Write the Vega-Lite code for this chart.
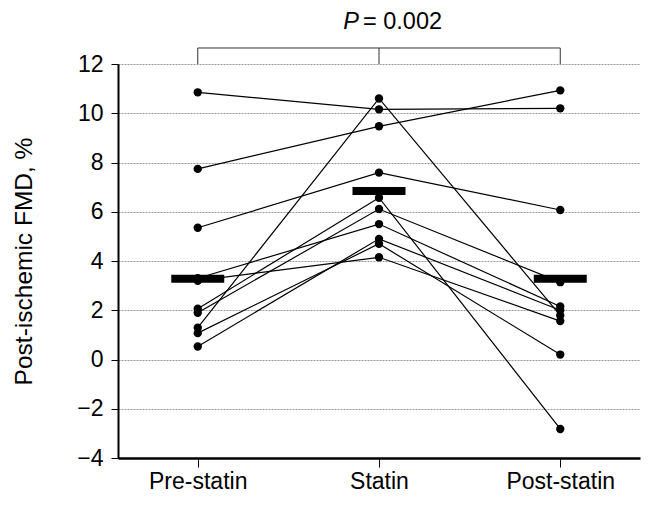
{
  "$schema": "https://vega.github.io/schema/vega-lite/v6.json",
  "autosize": "none",
  "width": 522,
  "height": 394,
  "padding": {"left": 118, "top": 64, "right": 9, "bottom": 47},
  "config": {
    "view": {"stroke": null},
    "font": "Liberation Sans",
    "axis": {"labelFont": "Liberation Sans", "titleFont": "Liberation Sans", "labelColor": "#000", "titleColor": "#000"}
  },
  "datasets": {
    "fmd": [
      {"subject": 1, "phase": "Pre-statin", "fmd": 10.85},
      {"subject": 1, "phase": "Statin", "fmd": 10.16},
      {"subject": 1, "phase": "Post-statin", "fmd": 10.2},
      {"subject": 2, "phase": "Pre-statin", "fmd": 7.74},
      {"subject": 2, "phase": "Statin", "fmd": 9.47},
      {"subject": 2, "phase": "Post-statin", "fmd": 10.93},
      {"subject": 3, "phase": "Pre-statin", "fmd": 5.35},
      {"subject": 3, "phase": "Statin", "fmd": 7.59},
      {"subject": 3, "phase": "Post-statin", "fmd": 6.07},
      {"subject": 4, "phase": "Pre-statin", "fmd": 1.29},
      {"subject": 4, "phase": "Statin", "fmd": 10.6},
      {"subject": 4, "phase": "Post-statin", "fmd": 1.79},
      {"subject": 5, "phase": "Pre-statin", "fmd": 2.06},
      {"subject": 5, "phase": "Statin", "fmd": 6.57},
      {"subject": 5, "phase": "Post-statin", "fmd": -2.82},
      {"subject": 6, "phase": "Pre-statin", "fmd": 1.9},
      {"subject": 6, "phase": "Statin", "fmd": 6.11},
      {"subject": 6, "phase": "Post-statin", "fmd": 3.14},
      {"subject": 7, "phase": "Pre-statin", "fmd": 3.3},
      {"subject": 7, "phase": "Statin", "fmd": 5.5},
      {"subject": 7, "phase": "Post-statin", "fmd": 2.15},
      {"subject": 8, "phase": "Pre-statin", "fmd": 0.53},
      {"subject": 8, "phase": "Statin", "fmd": 4.9},
      {"subject": 8, "phase": "Post-statin", "fmd": 2.0},
      {"subject": 9, "phase": "Pre-statin", "fmd": 1.07},
      {"subject": 9, "phase": "Statin", "fmd": 4.7},
      {"subject": 9, "phase": "Post-statin", "fmd": 0.2},
      {"subject": 10, "phase": "Pre-statin", "fmd": 3.2},
      {"subject": 10, "phase": "Statin", "fmd": 4.15},
      {"subject": 10, "phase": "Post-statin", "fmd": 1.56}
    ],
    "means": [
      {"phase": "Pre-statin", "fmd": 3.28},
      {"phase": "Statin", "fmd": 6.84},
      {"phase": "Post-statin", "fmd": 3.28}
    ],
    "bracket": [
      {"from": "Pre-statin", "to": "Post-statin", "y": 12.65}
    ],
    "bracketLegs": [
      {"phase": "Pre-statin", "y": 12, "y2": 12.65},
      {"phase": "Statin", "y": 12, "y2": 12.65},
      {"phase": "Post-statin", "y": 12, "y2": 12.65}
    ],
    "ptext": [
      {"phase": "Statin", "y": 13.72, "p": "P", "rest": "= 0.002"}
    ]
  },
  "encoding": {
    "x": {
      "field": "phase",
      "type": "nominal",
      "sort": ["Pre-statin", "Statin", "Post-statin"],
      "scale": {"type": "point", "domain": ["Pre-statin", "Statin", "Post-statin"], "padding": 0.44},
      "axis": {
        "title": null,
        "labelAngle": 0,
        "labelFontSize": 23,
        "labelPadding": 3,
        "tickSize": 9,
        "tickColor": "#000",
        "tickWidth": 1,
        "domainColor": "#000",
        "domainWidth": 2.5,
        "grid": false
      }
    }
  },
  "layer": [
    {
      "data": {"name": "fmd"},
      "mark": {"type": "line", "color": "#000", "strokeWidth": 1.2},
      "encoding": {
        "detail": {"field": "subject", "type": "nominal"},
        "y": {
          "field": "fmd",
          "type": "quantitative",
          "scale": {"domain": [-4, 12], "nice": false, "zero": false},
          "axis": {
            "values": [-4, -2, 0, 2, 4, 6, 8, 10, 12],
            "title": "Post-ischemic FMD, %",
            "titleFontSize": 24.5,
            "titleFontWeight": "normal",
            "titlePadding": 40,
            "labelFontSize": 23,
            "labelPadding": 8,
            "tickSize": 7,
            "tickColor": "#000",
            "domainColor": "#000",
            "domainWidth": 2,
            "grid": true,
            "gridColor": "#9a9a9a",
            "gridDash": [2, 1],
            "gridWidth": 1
          }
        }
      }
    },
    {
      "data": {"name": "fmd"},
      "mark": {"type": "point", "filled": true, "color": "#000", "size": 70, "opacity": 1},
      "encoding": {
        "y": {"field": "fmd", "type": "quantitative"}
      }
    },
    {
      "data": {"name": "means"},
      "mark": {"type": "tick", "orient": "horizontal", "color": "#000", "size": 53, "thickness": 8, "opacity": 1},
      "encoding": {
        "y": {"field": "fmd", "type": "quantitative"}
      }
    },
    {
      "data": {"name": "bracket"},
      "mark": {"type": "rule", "color": "#333", "strokeWidth": 1},
      "encoding": {
        "x": {"field": "from", "type": "nominal"},
        "x2": {"field": "to"},
        "y": {"field": "y", "type": "quantitative"}
      }
    },
    {
      "data": {"name": "bracketLegs"},
      "mark": {"type": "rule", "color": "#333", "strokeWidth": 1},
      "encoding": {
        "y": {"field": "y", "type": "quantitative"},
        "y2": {"field": "y2"}
      }
    },
    {
      "data": {"name": "ptext"},
      "mark": {"type": "text", "fontSize": 23.5, "fontStyle": "italic", "align": "right", "dx": -20, "color": "#000"},
      "encoding": {
        "y": {"field": "y", "type": "quantitative"},
        "text": {"field": "p"}
      }
    },
    {
      "data": {"name": "ptext"},
      "mark": {"type": "text", "fontSize": 23.5, "align": "left", "dx": -16, "color": "#000"},
      "encoding": {
        "y": {"field": "y", "type": "quantitative"},
        "text": {"field": "rest"}
      }
    }
  ]
}
